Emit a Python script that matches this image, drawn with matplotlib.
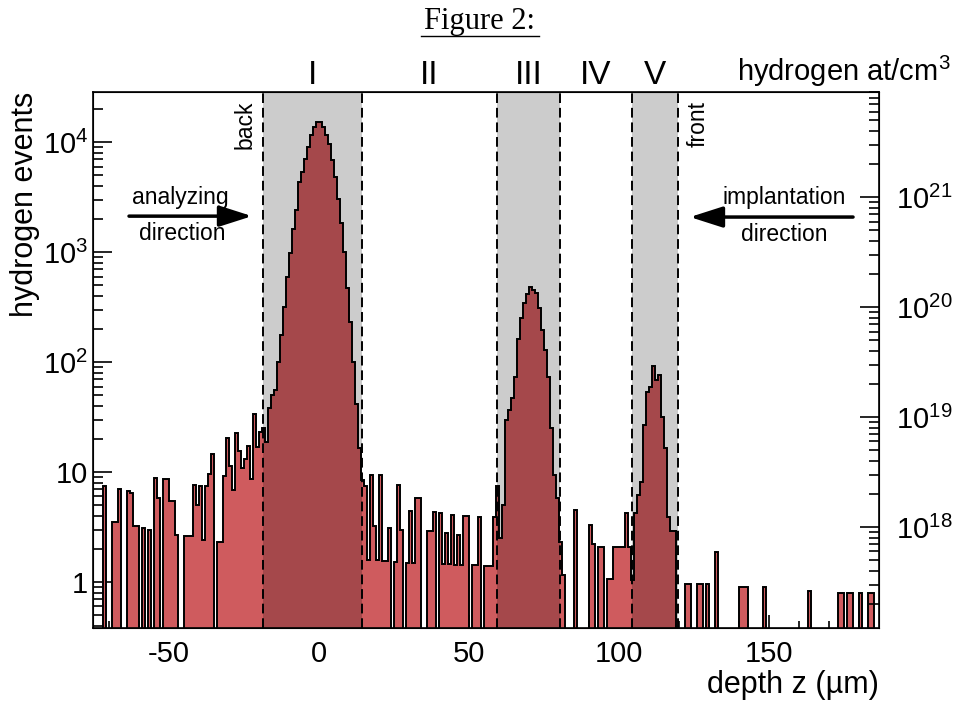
import numpy as np
import matplotlib
matplotlib.use("Agg")
import matplotlib.pyplot as plt
from matplotlib.ticker import FixedLocator, FixedFormatter, LogLocator, NullFormatter, MultipleLocator
from matplotlib.transforms import blended_transform_factory

plt.rcParams['font.family'] = ['Liberation Sans', 'DejaVu Sans']
plt.rcParams['mathtext.fontset'] = 'custom'
plt.rcParams['mathtext.rm'] = 'Liberation Sans'
plt.rcParams['mathtext.it'] = 'Liberation Sans:italic'
plt.rcParams['mathtext.default'] = 'regular'
plt.rcParams['axes.unicode_minus'] = False

# histogram: 1 um bins starting at -75 um, counts
bin_start = -75
bin_width = 1
counts_back = [0, 0, 0, 7.5, 0, 0, 3.5, 3.5, 7.0, 0,
               0, 6.7, 6.4, 3.2, 3.2, 0, 3.1, 0, 3.0, 0,
               8.9, 5.8, 0, 8.6, 8.6, 5.5, 5.5, 2.7, 0, 0,
               2.6, 2.6, 2.6, 7.7, 5.0, 7.5, 2.4, 7.4, 9.6, 14.6,
               0, 2.3, 2.3, 9.2, 20.6, 11.3, 6.8, 22.8, 15.6, 11.0,
               13.1, 17.2, 8.6, 33.4, 17, 23, 25]                 # -75 .. -19
counts_peak1 = [18.9, 38, 50, 56, 101, 176, 318, 597, 973, 1641,
                2409, 4357, 5370, 7110, 9070, 11580, 13770, 15300, 15300, 13770,
                11580, 9730, 6860, 4840, 3075, 1824, 1007, 468, 233, 101,
                42, 16.4, 8.5, 7.5]                                # -18 .. 15
counts_mid = [1.6, 9.5, 3.2, 1.6, 9.5, 1.55, 1.55, 3.1, 0, 1.53,
              7.6, 3.0, 0, 1.5, 4.4, 1.5, 5.8, 5.8, 0, 0,
              2.9, 2.9, 4.3, 0, 4.2, 1.46, 2.8, 1.46, 4.1, 1.43,
              2.7, 1.43, 4.0, 4.0, 0, 1.42, 1.42, 3.9, 0, 1.39,
              1.39, 1.39, 3.9]                                     # 16 .. 58
counts_peak3 = [7.5, 2.5, 5.0, 29.7, 36.6, 46.8, 73.6, 164, 250, 346,
                415, 478, 452, 427, 308, 195, 129, 74, 25, 9.4,
                5.8, 2.3, 1.16]                                    # 59 .. 81
counts_mid2 = [0, 0, 0, 4.5, 0, 0, 0, 0, 3.3, 2.2,
               0, 2.1, 2.1, 0, 1.06, 1.06, 2.1, 2.1, 2.1, 2.1,
               4.2, 2.1, 1.04]                                     # 82 .. 104
counts_peak5 = [4.2, 6.2, 8.2, 26.7, 53.7, 59.7, 92, 68.6, 76, 31.8,
                16.4, 3.9, 2.9, 2.9, 0]                            # 105 .. 119
counts_tail = [0, 0, 0.95, 0.95, 0, 0, 0.95, 0.95, 0, 0.95,
               0, 0, 1.86, 0, 0, 0, 0, 0, 0, 0,
               0.9, 0.9, 0.9, 0, 0, 0, 0, 0, 0.9, 0,
               0, 0, 0, 0, 0, 0, 0, 0, 0, 0,
               0, 0, 0, 0.83, 0, 0, 0, 0, 0, 0,
               0, 0, 0, 0.8, 0.8, 0, 0.8, 0.8, 0, 0,
               0.8, 0, 0, 0.8, 0.8, 0, 0]                          # 120 .. 186

region_names = ['I', 'II', 'III', 'IV', 'V']
region_edges = [-18.7, 14.3, 59.3, 80.3, 104.3, 119.7]
shaded = [True, False, True, False, True]

left_ticks = [1, 10, 100, 1000, 10000]
left_labels = ['1', '10', '$10^{2}$', '$10^{3}$', '$10^{4}$']
right_ticks = [1e18, 1e19, 1e20, 1e21]
right_labels = ['$10^{18}$', '$10^{19}$', '$10^{20}$', '$10^{21}$']
density_per_event = 10 ** 17.5

xlim = (-75.3, 186.7)
ylim = (0.382, 28500)

counts = np.array(counts_back + counts_peak1 + counts_mid + counts_peak3 +
                  counts_mid2 + counts_peak5 + counts_tail, dtype=float)
edges = bin_start + bin_width * np.arange(len(counts) + 1)
floor = 1e-3
plot_counts = np.where(counts > 0, counts, floor)

fig = plt.figure(figsize=(9.55, 7.04), dpi=100)
ax = fig.add_axes([0.0974, 0.108, 0.823, 0.761])

ax.stairs(plot_counts, edges, baseline=floor, fill=True, facecolor='#cf5b5e',
          edgecolor='black', linewidth=1.4, zorder=2)

# grey regions (darken whatever is below, like a multiply)
for i in range(len(region_names)):
    if shaded[i]:
        ax.axvspan(region_edges[i], region_edges[i + 1], color='black', alpha=0.2, lw=0, zorder=3)
for x in region_edges:
    ax.axvline(x, color='black', ls=(0, (5, 2.5)), lw=1.4, zorder=4)

ax.set_yscale('log')
ax.set_xlim(*xlim)
ax.set_ylim(*ylim)

ax.yaxis.set_major_locator(FixedLocator(left_ticks))
ax.yaxis.set_major_formatter(FixedFormatter(left_labels))
ax.yaxis.set_minor_locator(LogLocator(base=10, subs=np.arange(2, 10), numticks=20))
ax.yaxis.set_minor_formatter(NullFormatter())
ax.xaxis.set_major_locator(MultipleLocator(50))
ax.xaxis.set_minor_locator(MultipleLocator(10))

ax.tick_params(which='both', direction='in', top=False, right=False, labelsize=21, width=1.2)
ax.tick_params(axis='y', which='major', length=14)
ax.tick_params(axis='y', which='minor', length=7)
ax.tick_params(axis='x', which='major', length=9.5, pad=9)
ax.tick_params(axis='x', which='minor', length=5)
for s in ax.spines.values():
    s.set_linewidth(1.2)

ax.set_ylabel('hydrogen events', fontsize=22, loc='top', labelpad=2)
ax.set_xlabel('depth z (µm)', fontsize=22, loc='right', labelpad=1)

# right axis in hydrogen density
ax2 = ax.twinx()
ax2.set_yscale('log')
ax2.set_ylim(ylim[0] * density_per_event, ylim[1] * density_per_event)
ax2.yaxis.set_major_locator(FixedLocator(right_ticks))
ax2.yaxis.set_major_formatter(FixedFormatter(right_labels))
ax2.yaxis.set_minor_locator(LogLocator(base=10, subs=np.arange(2, 10), numticks=20))
ax2.yaxis.set_minor_formatter(NullFormatter())
ax2.tick_params(which='both', direction='in', labelsize=21, width=1.2, pad=12)
ax2.tick_params(which='major', length=14)
ax2.tick_params(which='minor', length=7)

# region names above the frame
trans = blended_transform_factory(ax.transData, ax.transAxes)
for i, name in enumerate(region_names):
    xc = 0.5 * (region_edges[i] + region_edges[i + 1])
    ax.text(xc, 1.032, name, transform=trans, ha='center', va='center', fontsize=24)

fig.text(0.995, 0.898, 'hydrogen at/cm$^{3}$', ha='right', va='center', fontsize=21)

# direction arrows and notes
arrow_style = dict(arrowstyle='-|>,head_length=1.0,head_width=0.32', lw=2.5,
                   color='black', mutation_scale=20, shrinkA=0, shrinkB=0)
ax.text(0.111, 0.804, 'analyzing', transform=ax.transAxes, ha='center', va='center', fontsize=16.5)
ax.text(0.113, 0.737, 'direction', transform=ax.transAxes, ha='center', va='center', fontsize=16.5)
ax.annotate('', xy=(0.2023, 0.7687), xytext=(0.0458, 0.7687), xycoords='axes fraction',
            arrowprops=arrow_style)
ax.text(0.880, 0.804, 'implantation', transform=ax.transAxes, ha='center', va='center', fontsize=16.5)
ax.text(0.880, 0.735, 'direction', transform=ax.transAxes, ha='center', va='center', fontsize=16.5)
ax.annotate('', xy=(0.7595, 0.767), xytext=(0.967, 0.767), xycoords='axes fraction',
            arrowprops=arrow_style)
ax.text(0.1934, 0.94, 'back', transform=ax.transAxes, ha='center', va='center', rotation=90, fontsize=16.5)
ax.text(0.7697, 0.94, 'front', transform=ax.transAxes, ha='center', va='center', rotation=90, fontsize=16.5)

# title, underlined
fig.text(0.5026, 0.969, 'Figure 2:', ha='center', va='center', fontsize=22, family='Liberation Serif')
fig.add_artist(plt.Line2D([421 / 955, 539 / 955], [0.949, 0.949], color='black', lw=1.0))

fig.savefig('out.png', dpi=100)
